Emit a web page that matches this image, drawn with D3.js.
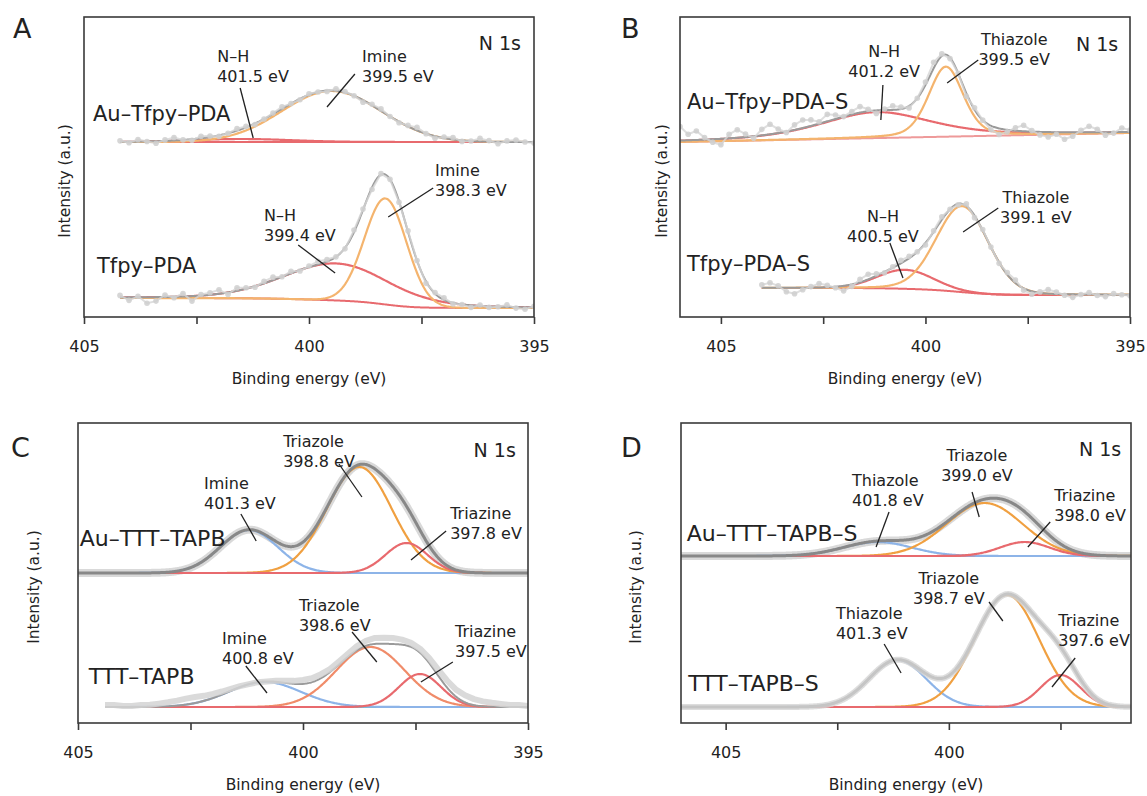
<!DOCTYPE html>
<html>
<head>
<meta charset="utf-8">
<script src="https://cdn.jsdelivr.net/npm/d3@7"></script>
<style>
  body { margin: 0; background: #fff; }
  text { font-family: "DejaVu Sans", Verdana, sans-serif; fill: #222; }
</style>
</head>
<body>
<svg id="chart" width="1147" height="796"></svg>
<script>
// ---------- data ----------
const panelLetters = ["A", "B", "C", "D"];
const energyDomains = [[405, 395], [406, 395], [405, 395], [406, 395.92]];
const majorTicks = [405, 402.5, 400, 397.5, 395];
const tickLabels = [405, 400, 395];
const coreLevel = "N 1s";
const xTitle = "Binding energy (eV)";
const yTitle = "Intensity (a.u.)";

const sampleNames = ["Au–Tfpy–PDA", "Tfpy–PDA", "Au–Tfpy–PDA–S", "Tfpy–PDA–S",
                     "Au–TTT–TAPB", "TTT–TAPB", "Au–TTT–TAPB–S", "TTT–TAPB–S"];

// fit components: [centre (eV), height, FWHM (eV), lorentz fraction]
// background: [high-BE end, low-BE end]; range: [first eV, last eV] of the scan
const rangeAuTfpyPDA = [404.2, 395];
const bgAuTfpyPDA = [175, 175];
const fitAuTfpyPDA = [[401.5, 3, 2.6, 0], [399.5, 51, 2.6, 0]];
const labelsAuTfpyPDA = [["N–H", "401.5 eV"], ["Imine", "399.5 eV"]];
const noiseAuTfpyPDA = [1,-1,2,0,-2,1,3,0,-1,2, 1,-1,0,2,1,-1,0,1,2,0, -1,1,0,-1,2,1,0,-2,1,2,
                        0,-1,1,3,0,-2,1,2,-1,0, 3,1,-2,1,2,0,-1];

const rangeTfpyPDA = [404.2, 395];
const bgTfpyPDA = [19, 9];
const fitTfpyPDA = [[399.4, 37, 2.8, 0.2], [398.3, 106, 1.1, 0]];
const labelsTfpyPDA = [["N–H", "399.4 eV"], ["Imine", "398.3 eV"]];
const noiseTfpyPDA = [2,-3,1,-6,-4,2,-1,3,-5,1, 2,4,-2,3,1,-1,2,3,0,2, -1,1,3,2,0,-1,2,1,-2,1,
                      0,-1,1,0,-2,1,2,-1,0,-2, 1,-1,0,2,-1,-2,1];

const rangeAuTfpyPDAS = [406, 395];
const bgAuTfpyPDAS = [175, 184];
const fitAuTfpyPDAS = [[401.2, 26, 3.2, 0.5], [399.5, 70, 1.0, 0.3]];
const labelsAuTfpyPDAS = [["N–H", "401.2 eV"], ["Thiazole", "399.5 eV"]];
const noiseAuTfpyPDAS = [14,6,9,2,-3,-6,4,8,3,-2, 6,10,4,-1,5,8,6,2,7,4, 0,3,6,2,-3,1,4,2,-2,0,
                         3,6,2,-1,0,-3,2,0,-4,-6, -2,3,6,1,-3,-5,-2,-7,-4,2, 6,3,-3,-1,4,2];

const rangeTfpyPDAS = [404, 395];
const bgTfpyPDAS = [29, 22];
const fitTfpyPDAS = [[400.5, 19, 1.6, 0], [399.1, 86, 1.5, 0.1]];
const labelsTfpyPDAS = [["N–H", "400.5 eV"], ["Thiazole", "399.1 eV"]];
const noiseTfpyPDAS = [3,5,2,-4,-6,-2,1,4,2,-1, -5,-2,3,5,2,-1,1,3,2,0, -2,1,3,0,-1,2,-2,1,0,-1,
                       2,3,-2,-3,1,4,2,-1,-3,0, 2,-1,-2,1,0,-1];

const rangeAuTTTTAPB = [405, 395];
const bgAuTTTTAPB = [150, 150];
const fitAuTTTTAPB = [[401.2, 43, 1.5, 0], [398.75, 106, 1.7, 0], [397.7, 30, 1.1, 0]];
const labelsAuTTTTAPB = [["Imine", "401.3 eV"], ["Triazole", "398.8 eV"], ["Triazine", "397.8 eV"]];

const rangeTTTTAPB = [404.4, 395];
const bgTTTTAPB = [16, 16];
const fitTTTTAPB = [[400.85, 25, 1.9, 0], [398.5, 60, 1.8, 0], [397.4, 33, 1.1, 0]];
const labelsTTTTAPB = [["Imine", "400.8 eV"], ["Triazole", "398.6 eV"], ["Triazine", "397.5 eV"]];
const noiseTTTTAPB = [2,2,1,1,2,2,3,4,5,6, 6,5,4,3,2,1,0,0,0,1, 2,3,4,4,4,3,3,3,4,5,
                      6,6,6,5,4,4,5,6,7,7, 7,6,5,4,3,2,2,1];

const rangeAuTTTTAPBS = [406, 395.92];
const bgAuTTTTAPBS = [167, 167];
const fitAuTTTTAPBS = [[401.6, 14, 1.8, 0], [399.2, 53, 2.0, 0], [398.3, 14, 1.3, 0]];
const labelsAuTTTTAPBS = [["Thiazole", "401.8 eV"], ["Triazole", "399.0 eV"], ["Triazine", "398.0 eV"]];

const rangeTTTTAPBS = [406, 395.92];
const bgTTTTAPBS = [16, 16];
const fitTTTTAPBS = [[401.15, 47, 1.5, 0], [398.7, 112, 1.7, 0], [397.5, 32, 1.05, 0]];
const labelsTTTTAPBS = [["Thiazole", "401.3 eV"], ["Triazole", "398.7 eV"], ["Triazine", "397.6 eV"]];

// ---------- layout / styles ----------
const panelBox = [
  {left: 84, top: 17, w: 450, h: 300},
  {left: 680, top: 17, w: 450, h: 300},
  {left: 78, top: 423, w: 450, h: 300},
  {left: 681, top: 423, w: 450, h: 300}
];
const letterPos = [[13, 38], [621, 38], [11, 457], [621, 457]];
const yTitlePos = [[65, 181], [662, 181], [34, 587], [636, 587]];
const coreLevelAt = [[395.29, 267], [395.29, 266], [395.27, 266], [396.14, 267]];
const nameSize = [21, 21, 22, 22];

const ORANGE_L = "#f4b46e", ORANGE = "#f0a041", RED = "#e86a6e", BLUE = "#8db4e8",
      SALMON = "#f08c6a", TEAL = "#63c2cd";

const spectra = [
  {panel: 0, range: rangeAuTfpyPDA, bg: bgAuTfpyPDA, fit: fitAuTfpyPDA, labels: labelsAuTfpyPDA,
   noise: noiseAuTfpyPDA, colors: [RED, ORANGE_L], bgColor: RED, linear: false,
   nameAt: [404.8, 196],
   ann: [[402.04, 255, "start", 401.53, 229, 401.24, 179], [398.82, 255, "start", 398.98, 243, 399.6, 210]]},
  {panel: 0, range: rangeTfpyPDA, bg: bgTfpyPDA, fit: fitTfpyPDA, labels: labelsTfpyPDA,
   noise: noiseTfpyPDA, colors: [RED, ORANGE_L], bgColor: RED, linear: false,
   nameAt: [404.71, 44],
   ann: [[401.0, 96, "start", 400.24, 72, 399.42, 44], [397.2, 141, "start", 397.24, 129, 398.24, 100]]},
  {panel: 1, range: rangeAuTfpyPDAS, bg: bgAuTfpyPDAS, fit: fitAuTfpyPDAS, labels: labelsAuTfpyPDAS,
   noise: noiseAuTfpyPDAS, colors: [RED, ORANGE_L], bgColor: "#ee9a9a", linear: true,
   nameAt: [405.83, 208],
   ann: [[401.01, 260, "middle", 401.04, 232, 401.09, 197], [397.83, 272, "middle", 398.71, 257, 399.47, 234]]},
  {panel: 1, range: rangeTfpyPDAS, bg: bgTfpyPDAS, fit: fitTfpyPDAS, labels: labelsTfpyPDAS,
   noise: noiseTfpyPDAS, colors: [RED, ORANGE_L], bgColor: RED, linear: false,
   nameAt: [405.83, 46],
   ann: [[401.04, 95, "middle", 400.87, 74, 400.55, 39], [397.3, 114, "middle", 398.22, 109, 399.08, 85]]},
  {panel: 2, range: rangeAuTTTTAPB, bg: bgAuTTTTAPB, fit: fitAuTTTTAPB, labels: labelsAuTTTTAPB,
   noise: null, colors: [BLUE, ORANGE, RED], bgColor: RED, linear: false, smooth: "under",
   nameAt: [404.96, 177],
   ann: [[402.2, 234, "start", 401.38, 209, 401.04, 182], [400.44, 276, "start", 399.2, 259, 398.69, 226],
         [396.73, 204, "start", 396.82, 192, 397.6, 163]]},
  {panel: 2, range: rangeTTTTAPB, bg: bgTTTTAPB, fit: fitTTTTAPB, labels: labelsTTTTAPB,
   noise: noiseTTTTAPB, colors: [BLUE, SALMON, RED], bgColor: TEAL, linear: false, band: true,
   nameAt: [404.76, 39],
   ann: [[401.8, 79, "start", 401.27, 57, 400.8, 30], [400.09, 112, "start", 398.91, 91, 398.36, 61],
         [396.62, 86, "start", 396.67, 61, 397.38, 41]]},
  {panel: 3, range: rangeAuTTTTAPBS, bg: bgAuTTTTAPBS, fit: fitAuTTTTAPBS, labels: labelsAuTTTTAPBS,
   noise: null, colors: [BLUE, ORANGE, RED], bgColor: RED, linear: false, smooth: "under",
   nameAt: [405.87, 182],
   ann: [[402.17, 237, "start", 401.34, 211, 401.63, 176], [399.37, 262, "middle", 399.48, 231, 399.32, 206],
         [397.64, 222, "start", 397.73, 201, 398.23, 176]]},
  {panel: 3, range: rangeTTTTAPBS, bg: bgTTTTAPBS, fit: fitTTTTAPBS, labels: labelsTTTTAPBS,
   noise: null, colors: [BLUE, ORANGE, RED], bgColor: RED, linear: false, smooth: "over",
   nameAt: [405.84, 32],
   ann: [[402.53, 104, "start", 401.45, 79, 401.07, 50], [400.0, 139, "middle", 399.1, 121, 398.79, 102],
         [397.55, 97, "start", 397.17, 65, 397.69, 36]]}
];
spectra.forEach((s, i) => s.name = sampleNames[i]);

// ---------- helpers ----------
function component(p, e) {
  const [c, h, w, m] = p;
  const d = (e - c) / w;
  return h * ((1 - m) * Math.exp(-4 * Math.LN2 * d * d) + m / (1 + 4 * d * d));
}

const STEP = 0.02;
function buildFit(s) {
  const [e0, e1] = s.range;
  const n = Math.round((e0 - e1) / STEP) + 1;
  const es = d3.range(n).map(i => e0 - i * STEP);
  const peakSum = es.map(e => d3.sum(s.fit, p => component(p, e)));
  // Shirley-type step: share of peak area on the low-BE side
  const cum = new Array(n).fill(0);
  for (let i = n - 2; i >= 0; i--) cum[i] = cum[i + 1] + (peakSum[i] + peakSum[i + 1]) / 2;
  const total = cum[0] || 1;
  const [bl, br] = s.bg;
  const bg = es.map((e, i) => s.linear
    ? br + (bl - br) * (e - e1) / (e0 - e1)
    : br + (bl - br) * cum[i] / total);
  return {es, bg, peakSum};
}

const svg = d3.select("#chart");

spectra.forEach(s => s.model = buildFit(s));

panelBox.forEach((b, pi) => {
  const x = d3.scaleLinear().domain(energyDomains[pi]).range([b.left, b.left + b.w]);
  const y = d3.scaleLinear().domain([0, b.h]).range([b.top + b.h, b.top]);

  const clipId = "clip" + pi;
  svg.append("clipPath").attr("id", clipId)
    .append("rect").attr("x", b.left).attr("y", b.top).attr("width", b.w).attr("height", b.h);

  const g = svg.append("g").attr("clip-path", `url(#${clipId})`);
  const line = d3.line().x(d => x(d[0])).y(d => y(d[1]));

  spectra.filter(s => s.panel === pi).forEach(s => {
    const m = s.model;
    const envelope = m.es.map((e, i) => [e, m.bg[i] + m.peakSum[i]]);
    const bgAt = e => m.bg[Math.max(0, Math.min(m.es.length - 1, Math.round((s.range[0] - e) / STEP)))];

    if (s.smooth === "under") {
      g.append("path").attr("d", line(envelope)).attr("fill", "none")
        .attr("stroke", "#d9d9d9").attr("stroke-width", 8).attr("stroke-linejoin", "round");
    }

    g.append("path").attr("d", line(m.es.map((e, i) => [e, m.bg[i]])))
      .attr("fill", "none").attr("stroke", s.bgColor).attr("stroke-width", 2);

    s.fit.forEach((p, k) => {
      g.append("path").attr("d", line(m.es.map((e, i) => [e, m.bg[i] + component(p, e)])))
        .attr("fill", "none").attr("stroke", s.colors[k]).attr("stroke-width", 2.2);
    });

    g.append("path").attr("d", line(envelope)).attr("fill", "none")
      .attr("stroke", s.smooth ? "#888" : "#9a9a9a").attr("stroke-width", s.smooth ? 3 : 2);

    if (s.smooth === "over") {
      g.append("path").attr("d", line(envelope)).attr("fill", "none")
        .attr("stroke", "#d4d4d4").attr("stroke-width", 6).attr("opacity", 0.8);
    }

    if (s.noise) {
      const pts = s.noise.map((r, i) => {
        const e = s.range[0] - i * 0.2;
        return [e, bgAt(e) + d3.sum(s.fit, p => component(p, e)) + r];
      });
      if (s.band) {
        g.append("path").attr("d", line(pts)).attr("fill", "none")
          .attr("stroke", "#d3d3d3").attr("stroke-width", 6).attr("opacity", 0.85)
          .attr("stroke-linejoin", "round");
      } else {
        g.append("path").attr("d", line(pts)).attr("fill", "none")
          .attr("stroke", "#d6d6d6").attr("stroke-width", 2).attr("opacity", 0.8);
        g.selectAll(null).data(pts).join("circle")
          .attr("cx", d => x(d[0])).attr("cy", d => y(d[1])).attr("r", 2.8)
          .attr("fill", "#cfcfcf").attr("opacity", 0.85);
      }
    }

    // sample name
    svg.append("text").attr("x", x(s.nameAt[0])).attr("y", y(s.nameAt[1]))
      .attr("font-size", nameSize[pi]).text(s.name);

    // peak annotations
    s.ann.forEach((a, k) => {
      const [te, ti, anchor, e1, i1, e2, i2] = a;
      const t = svg.append("text").attr("x", x(te)).attr("y", y(ti))
        .attr("font-size", 16).attr("text-anchor", anchor);
      t.append("tspan").attr("x", x(te)).text(s.labels[k][0]);
      t.append("tspan").attr("x", x(te)).attr("dy", 19.5).text(s.labels[k][1]);
      svg.append("line").attr("x1", x(e1)).attr("y1", y(i1)).attr("x2", x(e2)).attr("y2", y(i2))
        .attr("stroke", "#222").attr("stroke-width", 1.3);
    });
  });

  // frame
  svg.append("rect").attr("x", b.left).attr("y", b.top).attr("width", b.w).attr("height", b.h)
    .attr("fill", "none").attr("stroke", "#3a3a3a").attr("stroke-width", 1.6);

  // bottom axis
  const [d0, d1] = energyDomains[pi];
  const axis = d3.axisBottom(x)
    .tickValues(majorTicks.filter(t => t <= d0 && t >= d1))
    .tickSize(7).tickPadding(17)
    .tickFormat(t => tickLabels.includes(t) ? t : "");
  const ax = svg.append("g").attr("transform", `translate(0,${b.top + b.h})`).call(axis);
  ax.select(".domain").remove();
  ax.selectAll("line").attr("stroke", "#3a3a3a").attr("stroke-width", 1.6);
  ax.selectAll("text").attr("font-size", 16).attr("font-family", "DejaVu Sans, sans-serif").attr("fill", "#222");

  // axis titles
  svg.append("text").attr("x", b.left + b.w / 2).attr("y", b.top + b.h + 67)
    .attr("text-anchor", "middle").attr("font-size", 15.5).text(xTitle);
  svg.append("text").attr("transform", `translate(${yTitlePos[pi][0]},${yTitlePos[pi][1]}) rotate(-90)`)
    .attr("text-anchor", "middle").attr("dy", "0.35em").attr("font-size", 15.5).text(yTitle);

  // core level + panel letter
  svg.append("text").attr("x", x(coreLevelAt[pi][0])).attr("y", y(coreLevelAt[pi][1]))
    .attr("text-anchor", "end").attr("font-size", 19).text(coreLevel);
  svg.append("text").attr("x", letterPos[pi][0]).attr("y", letterPos[pi][1])
    .attr("font-family", "Liberation Sans, Arial, sans-serif").attr("font-size", 27)
    .text(panelLetters[pi]);
});
</script>
</body>
</html>
